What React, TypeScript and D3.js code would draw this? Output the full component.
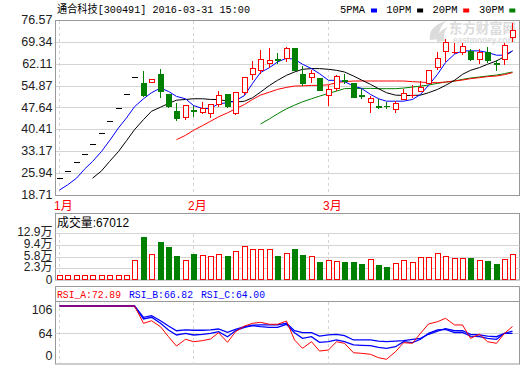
import React from "react";
import * as d3 from "d3";

const dates = [
  "01-08","01-11","01-12","01-13","01-14","01-15","01-18","01-19","01-20","01-21","01-22","01-25","01-26","01-27","01-28","01-29",
  "02-01","02-02","02-03","02-04","02-05","02-15","02-16","02-17","02-18","02-19","02-22","02-23","02-24","02-25","02-26","02-29",
  "03-01","03-02","03-03","03-04","03-07","03-08","03-09","03-10","03-11","03-14","03-15","03-16","03-17","03-18","03-21","03-22","03-23","03-24","03-25","03-28","03-29","03-30","03-31",
];
const opens = [24.25,26.57,29.57,32.23,35.57,39.22,43.31,47.53,52.18,57.61,55.6,56.2,58.84,51.96,46.64,44.4,47.0,46.2,45.87,48.87,52.2,45.87,52.86,58.84,60.04,62.5,63.65,64.17,67.16,58.84,57.71,57.52,51.73,53.96,56.77,55.62,51.68,49.53,48.12,48.2,47.2,50.53,51.6,53.06,55.85,61.04,66.36,66.0,66.06,66.36,63.83,66.03,62.32,63.83,70.82];
const highs = [24.25,26.57,29.57,32.23,35.57,39.22,43.31,47.53,52.18,57.61,59.94,57.0,60.6,52.3,49.4,48.6,48.4,49.73,49.2,53.3,52.5,53.06,58.06,63.27,66.93,67.5,65.83,68.0,67.5,61.6,60.5,57.6,55.29,58.84,59.18,56.0,53.96,51.63,50.86,49.73,50.06,53.96,55.29,56.62,60.3,66.26,70.58,69.39,69.39,67.16,67.16,67.82,63.83,69.15,75.8];
const lows = [24.25,26.57,29.57,32.23,35.57,39.22,43.31,47.53,52.18,57.61,51.5,56.1,51.2,47.8,43.4,44.0,44.8,45.87,44.4,48.07,47.9,45.6,51.96,56.95,58.95,61.17,62.5,63.03,59.9,55.05,56.05,53.3,48.4,53.3,55.62,51.0,50.86,46.08,47.31,47.31,46.08,50.3,51.2,53.0,55.62,60.5,63.03,65.5,65.27,63.5,62.27,62.83,60.04,61.94,69.69];
const closes = [24.25,26.57,29.57,32.23,35.57,39.22,43.31,47.53,52.18,57.61,51.73,56.9,53.06,48.07,44.2,48.4,46.95,47.53,48.87,51.73,48.3,52.86,57.85,60.84,63.83,63.27,63.6,67.16,60.17,55.85,59.17,53.4,53.85,58.05,56.72,51.2,51.63,50.63,48.07,48.0,49.1,52.53,51.65,54.52,60.17,64.17,69.15,66.05,68.02,63.6,66.03,63.27,62.27,68.26,73.24];

// volume in 万 (10k shares)
const volumes = [0.28,0.28,0.28,0.28,0.28,0.28,0.28,0.28,0.28,4.81,11.85,6.53,10.34,8.73,6.02,4.81,6.62,6.23,6.02,6.53,6.02,7.53,9.04,8.13,8.13,8.13,6.02,6.83,8.22,6.32,5.93,4.2,4.81,4.5,4.2,4.2,3.6,5.11,3.3,2.69,3.81,4.81,4.2,5.62,5.62,6.83,6.02,5.41,5.41,5.41,4.81,4.5,3.6,5.11,6.70];

const ma5: (number | null)[] = [20.37,22.03,24.26,27.25,29.78,33.1,36.66,40.9,44.2,47.9,50.53,52.53,54.06,52.96,51.3,50.53,48.3,47.3,47.3,48.9,49.2,49.9,51.6,55.6,59.2,60.84,62.7,63.93,63.6,61.94,60.5,58.84,56.62,56.62,56.2,54.72,53.96,51.96,50.53,49.73,49.73,49.73,50.3,51.96,54.95,58.61,62.5,65.27,66.36,66.36,66.36,65.83,64.93,64.93,66.36];
const ma10: (number | null)[] = [null,null,null,null,24.26,26.68,29.78,33.1,36.66,40.3,43.65,46.4,47.74,48.97,50.06,50.3,50.53,50.53,50.3,50.3,49.73,49.4,49.73,50.86,52.73,54.95,56.62,58.28,59.38,60.27,60.5,60.5,60.27,59.94,59.38,58.05,56.72,55.29,53.86,52.53,51.73,51.63,51.63,51.73,52.53,53.62,54.95,56.62,58.61,59.94,60.84,61.94,63.03,64.5,66.36];
const ma20: (number | null)[] = [null,null,null,null,null,null,null,null,null,null,null,null,null,null,37.0,38.43,40.1,41.65,43.1,44.55,45.87,47.2,48.64,50.3,51.73,52.73,53.62,54.29,54.72,54.8,54.95,54.95,55.17,55.85,56.18,56.4,56.4,56.4,56.4,56.4,56.4,56.4,56.18,56.05,55.85,55.85,56.05,56.4,56.72,57.18,57.5,57.85,58.05,58.5,59.18];
const ma30: (number | null)[] = [null,null,null,null,null,null,null,null,null,null,null,null,null,null,null,null,null,null,null,null,null,null,null,null,42.2,43.88,45.54,47.2,48.4,49.53,50.53,51.4,52.3,53.06,53.86,53.96,53.96,53.96,53.86,53.86,53.86,54.06,54.4,54.72,55.06,55.62,56.05,56.4,56.95,57.38,57.72,58.05,58.38,58.84,59.38];

const rsiA = [100,100,100,100,100,100,100,100,100,100,77.2,80.6,72.7,59.5,47.2,56.1,52.9,54.3,56.5,64.8,52.1,66.1,73.6,77.2,78.5,75.9,75.9,80.2,55.2,44.2,52.9,40.6,42,52.9,50.8,38.4,37.6,36.3,31.8,29.7,39.7,51.6,50.8,64,76.3,79.3,83.8,75,75,57.4,62.7,52.9,50.8,64,72.9];
const rsiB = [100,100,100,100,100,100,100,100,100,100,82.9,85.1,77.2,68.4,61.8,64,61.8,62.7,64,66.1,59.5,67.4,71.9,74,72.7,71.9,71.9,75.9,64.8,57.4,59.5,52.1,52.9,55.2,52.9,48.6,48.2,47.7,45.5,44.2,46.3,52.9,51.6,56.1,64,68.4,69.3,64.8,65.3,60.4,59.5,57.4,56.1,64,66.8];
const rsiC = [100,100,100,100,100,100,100,100,100,100,85.1,87.2,80.6,73.6,67.4,68.4,68,68,68.4,69.7,65.3,69.3,72.7,74.6,75,75,75,77.2,67.4,64.8,64.8,60.4,61.8,62.7,60.9,55.2,55.2,55.2,53.8,52.9,53.8,54.3,56.1,57.4,62.7,67,70.1,67.4,67.4,62.7,61.8,60.4,59.5,64,64.0];

const priceTicks = [76.57, 69.34, 62.11, 54.87, 47.64, 40.41, 33.17, 25.94, 18.71];
const volTicks = [12.9, 9.4, 5.8, 2.3];
const rsiTicks = ["106", "64", "0"];
const monthStarts = ["01-08", "02-01", "03-01"];
const monthLabels = ["1月", "2月", "3月"];
const legendNames = ["5PMA", "10PM", "20PM", "30PM"];
const legendColors = ["#0000ff", "#000000", "#ff0000", "#008000"];
const rsiLabels = ["RSI_A:72.89", "RSI_B:66.82", "RSI_C:64.00"];
const rsiLabelColors = ["#ff0000", "#0000ff", "#0000ff"];

const RED = "#ff0000";
const GREEN = "#008000";
const FRAME = "#999999";
const GRID = "#d4d4d4";
const SANS = "'Liberation Sans', Arial, 'Noto Sans CJK SC', sans-serif";
const MONO = "'Liberation Mono', 'DejaVu Sans Mono', 'Noto Sans CJK SC', monospace";

const L = 55.5, R = 519.5;

export default function App() {
  const x = d3.scaleBand<string>().domain(dates).range([55, 517]);
  const cxi = (i: number) => Math.round(x(dates[i])! + x.bandwidth() / 2 - 0.5);
  const y = d3.scaleLinear().domain([18.71, 76.57]).range([195, 20]);
  const vy = d3.scaleLinear().domain([-1.23, 12.9]).range([280, 233.3]);
  const ry = d3.scaleLinear().domain([23.5, 105.7]).range([364, 301.7]);
  const py = (v: number) => Math.round(y(v)) + 0.5;

  const lineGen = (arr: (number | null)[], sc: (v: number) => number) =>
    d3.line<number | null>()
      .defined((d) => d != null)
      .x((_, i) => cxi(i) + 0.5)
      .y((d) => sc(d as number))(arr) || "";

  const monthIdx = monthStarts.map((m) => dates.indexOf(m));
  const vtickY = (v: number) => Math.round(vy(v)) + 0.5;

  return (
    <svg width={520} height={365} style={{ position: "absolute", left: 0, top: 0, background: "#fff" }}>
      <rect x={0} y={0} width={520} height={365} fill="#fff" />
      {/* watermark */}
      <g fill="#dcdcdc" fontFamily={SANS} fontWeight="bold">
        <path d="M430,40 C428,31 435,24 446,21 C440,27 438,32 440,39 Z" />
        <path d="M437,42 C436,35 441,29 448,27 C444,31 443,36 445,41 Z" />
        <text x={449} y={33} fontSize={14} fontFamily="'Noto Sans CJK SC', sans-serif" textLength={67} lengthAdjust="spacingAndGlyphs">东方财富网</text>
        <text x={453} y={43} fontSize={9} textLength={62} lengthAdjust="spacingAndGlyphs">eastmoney.com</text>
      </g>

      {/* title */}
      <text x={57} y={10} dominantBaseline="central" fontSize={11} fontFamily={MONO} textLength={193} lengthAdjust="spacingAndGlyphs" fill="#000">
        通合科技[300491] 2016-03-31 15:00
      </text>
      {legendNames.map((n, k) => (
        <g key={n}>
          <text x={340 + k * 46.3} y={10} dominantBaseline="central" fontSize={11} fontFamily={MONO} textLength={25} lengthAdjust="spacingAndGlyphs" fill="#000">{n}</text>
          <rect x={371 + k * 46.1} y={8.5} width={6} height={4} fill={legendColors[k]} />
        </g>
      ))}

      {/* main panel grid */}
      {priceTicks.slice(1, -1).map((t) => (
        <line key={t} x1={L} x2={R} y1={py(t)} y2={py(t)} stroke={GRID} />
      ))}
      {monthIdx.map((i) => (
        <line key={"mv" + i} x1={cxi(i) + 0.5} x2={cxi(i) + 0.5} y1={21} y2={195} stroke={GRID} strokeDasharray="3,3" />
      ))}
      <rect x={L} y={20.5} width={R - L} height={175} fill="none" stroke={FRAME} />
      {priceTicks.map((t) => (
        <text key={"pt" + t} x={52.5} y={y(t)} dominantBaseline="central" textAnchor="end" fontSize={12.5} fontFamily={SANS} fill="#222">
          {t.toFixed(2)}
        </text>
      ))}
      {monthIdx.map((i, k) => (
        <text key={"ml" + k} x={cxi(i) - 5} y={206} dominantBaseline="central" fontSize={12} fontFamily={SANS} fill={RED}>
          {monthLabels[k]}
        </text>
      ))}

      {/* moving averages */}
      <path d={lineGen(ma30, y)} fill="none" stroke={GREEN} strokeWidth={1} />
      <path d={lineGen(ma20, y)} fill="none" stroke={RED} strokeWidth={1} />
      <path d={lineGen(ma10, y)} fill="none" stroke="#000" strokeWidth={1} />
      <path d={lineGen(ma5, y)} fill="none" stroke="#0000ff" strokeWidth={1} />

      {/* candles */}
      {dates.map((d, i) => {
        const o = opens[i], c = closes[i], h = highs[i], l = lows[i];
        const X = cxi(i);
        const Xc = X + 0.5;
        if (h === l) {
          return <line key={d} x1={X - 2} x2={X + 4} y1={py(c)} y2={py(c)} stroke="#000" />;
        }
        const up = c > o;
        const col = up ? RED : GREEN;
        if (Math.abs(c - o) < 0.1) {
          return (
            <g key={d} shapeRendering="crispEdges">
              <line x1={Xc} x2={Xc} y1={py(h)} y2={py(l)} stroke={col} />
              <line x1={X - 2} x2={X + 4} y1={py(c)} y2={py(c)} stroke={col} strokeWidth={up ? 1 : 2} />
            </g>
          );
        }
        const top = py(Math.max(o, c));
        const bot = py(Math.min(o, c));
        if (up) {
          return (
            <g key={d} shapeRendering="crispEdges">
              <line x1={Xc} x2={Xc} y1={py(h)} y2={top} stroke={col} />
              <line x1={Xc} x2={Xc} y1={bot} y2={py(l)} stroke={col} />
              <rect x={X - 1.5} y={top} width={5} height={Math.max(1, bot - top)} fill="#fff" stroke={col} />
            </g>
          );
        }
        return (
          <g key={d} shapeRendering="crispEdges">
            <line x1={Xc} x2={Xc} y1={py(h)} y2={py(l)} stroke={col} />
            <rect x={X - 2} y={top - 0.5} width={6} height={Math.max(1, bot - top + 1)} fill={col} />
          </g>
        );
      })}

      {/* volume panel */}
      <rect x={L} y={213.5} width={R - L} height={66.5} fill="none" stroke={FRAME} />
      {volTicks.map((t) => (
        <line key={"vg" + t} x1={L} x2={R} y1={vtickY(t)} y2={vtickY(t)} stroke={GRID} />
      ))}
      {monthIdx.map((i) => (
        <line key={"vv" + i} x1={cxi(i) + 0.5} x2={cxi(i) + 0.5} y1={234} y2={280} stroke={GRID} strokeDasharray="3,3" />
      ))}
      <text x={57} y={223} dominantBaseline="central" fontSize={12} fontFamily={SANS} textLength={72} lengthAdjust="spacingAndGlyphs" fill="#000">
        成交量:67012
      </text>
      {volTicks.map((t) => (
        <text key={"vl" + t} x={52.5} y={vy(t) - 1} dominantBaseline="central" textAnchor="end" fontSize={12} fontFamily={SANS} fill="#222">
          {t + "万"}
        </text>
      ))}
      <text x={52.5} y={279.5} dominantBaseline="central" textAnchor="end" fontSize={12} fontFamily={SANS} fill="#222">0</text>
      {dates.map((d, i) => {
        const X = cxi(i);
        const up = closes[i] >= opens[i];
        const top = Math.round(vy(volumes[i])) + 0.5;
        const base = vy.range()[0];
        if (up) {
          return <rect key={"v" + d} x={X - 1.5} y={top} width={5} height={base - 0.5 - top} fill="#fff" stroke={RED} shapeRendering="crispEdges" />;
        }
        return <rect key={"v" + d} x={X - 2} y={top - 0.5} width={6} height={base - top + 0.5} fill={GREEN} shapeRendering="crispEdges" />;
      })}

      {/* RSI panel */}
      <line x1={L} x2={R} y1={286.5} y2={286.5} stroke={FRAME} />
      <rect x={L} y={301.5} width={R - L} height={62.5} fill="none" stroke={FRAME} />
      <line x1={L} x2={L} y1={286.5} y2={302} stroke={FRAME} />
      <line x1={R} x2={R} y1={286.5} y2={302} stroke={FRAME} />
      <line x1={L} x2={R} y1={Math.round(ry(64)) + 0.5} y2={Math.round(ry(64)) + 0.5} stroke={GRID} />
      {monthIdx.map((i) => (
        <line key={"rv" + i} x1={cxi(i) + 0.5} x2={cxi(i) + 0.5} y1={302} y2={364} stroke={GRID} strokeDasharray="3,3" />
      ))}
      {rsiLabels.map((s, k) => (
        <text key={s} x={57 + k * 72} y={295} dominantBaseline="central" fontSize={11} fontFamily={MONO} textLength={64} lengthAdjust="spacingAndGlyphs" fill={rsiLabelColors[k]}>
          {s}
        </text>
      ))}
      <text x={52.5} y={ry(106) + 8.5} dominantBaseline="central" textAnchor="end" fontSize={12.5} fontFamily={SANS} fill="#222">{rsiTicks[0]}</text>
      <text x={52.5} y={ry(64) + 0.5} dominantBaseline="central" textAnchor="end" fontSize={12.5} fontFamily={SANS} fill="#222">{rsiTicks[1]}</text>
      <text x={52.5} y={ry.range()[0] - 8} dominantBaseline="central" textAnchor="end" fontSize={12.5} fontFamily={SANS} fill="#222">{rsiTicks[2]}</text>
      <path d={lineGen(rsiC, ry)} fill="none" stroke="#0000ff" strokeWidth={1.3} />
      <path d={lineGen(rsiB, ry)} fill="none" stroke="#0000ff" strokeWidth={1.3} />
      <path d={lineGen(rsiA, ry)} fill="none" stroke={RED} strokeWidth={1} />
    </svg>
  );
}
